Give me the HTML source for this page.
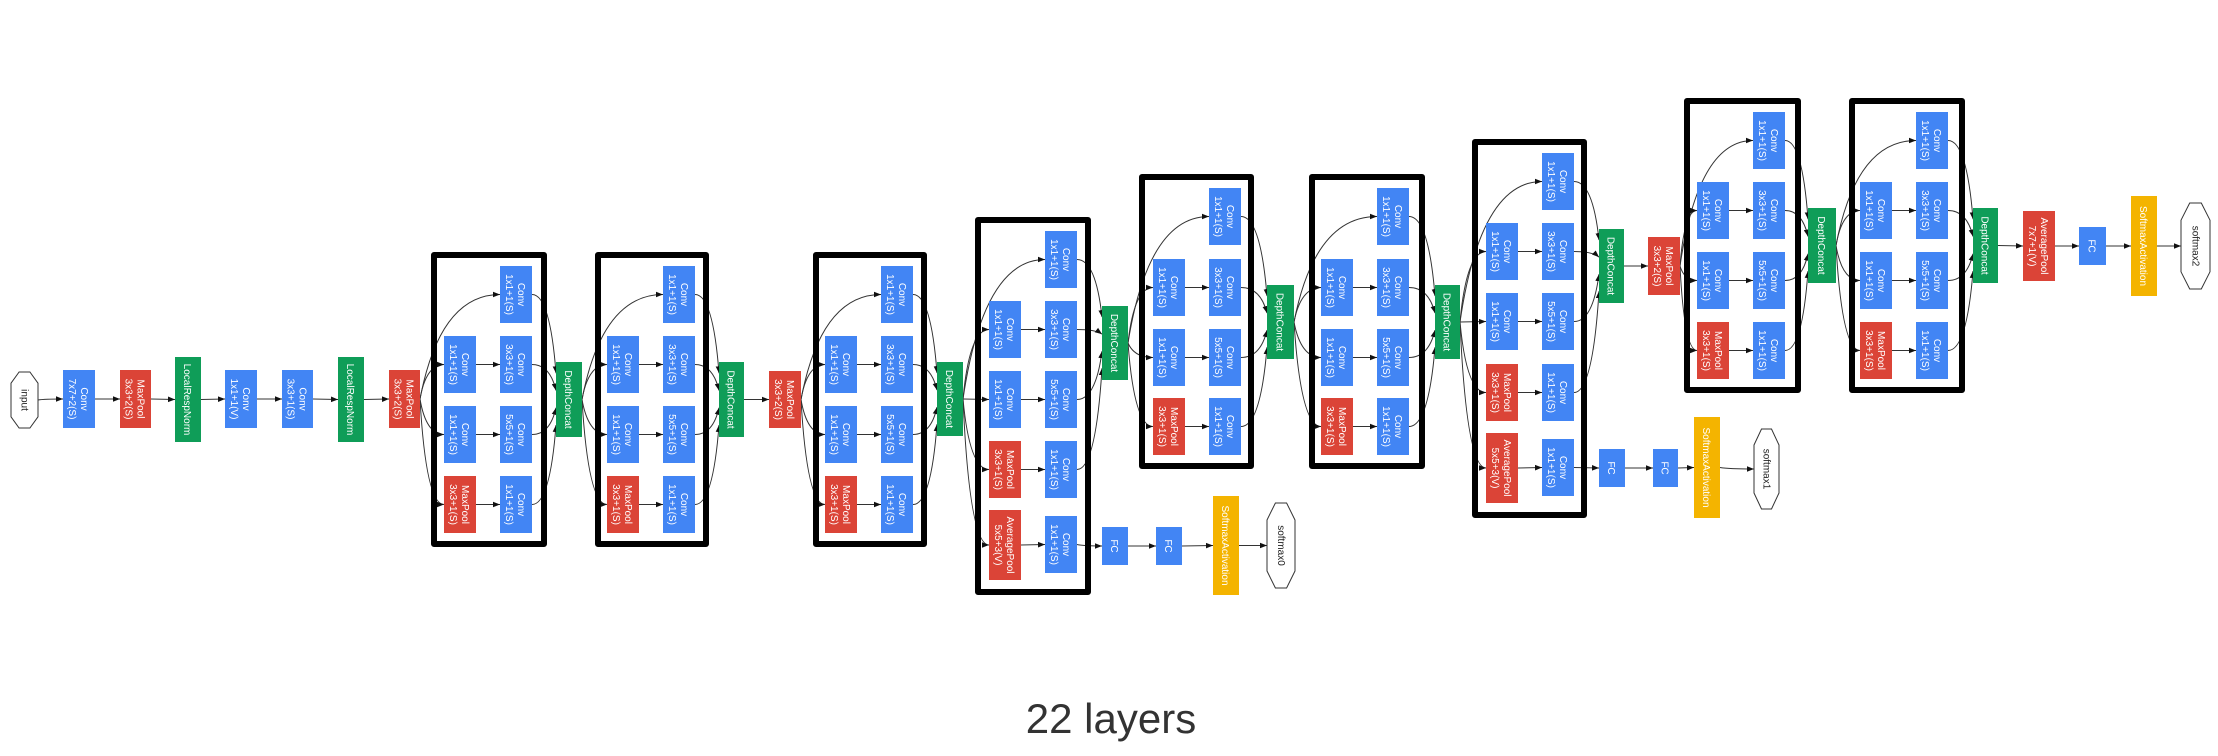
<!DOCTYPE html>
<html><head><meta charset="utf-8"><style>
html,body{margin:0;padding:0;background:#fff;width:2218px;height:756px;overflow:hidden}
svg{display:block}
.t{font-family:"Liberation Sans",sans-serif;font-size:10px;fill:#fff}
</style></head><body>
<svg id="g" width="2218" height="756" viewBox="0 0 2218 756" xmlns="http://www.w3.org/2000/svg">
<defs><marker id="ar" viewBox="0 0 10 10" refX="10" refY="5" markerWidth="7" markerHeight="7" orient="auto"><path d="M0,1 L10,5 L0,9 z" fill="#111"/></marker></defs>
<g id="edges"></g><g id="frames"></g><g id="nodes"></g>
<text x="1111" y="733" text-anchor="middle" font-family="Liberation Sans, sans-serif" font-size="42" fill="#333">22 layers</text>
</svg>
<script>
const BLUE='#4285F4',RED='#DB4437',GREEN='#0F9D58',YEL='#F4B400';
const NS='http://www.w3.org/2000/svg';
const E=document.getElementById('edges'),F=document.getElementById('frames'),G=document.getElementById('nodes');
function mk(tag,attrs,parent){const e=document.createElementNS(NS,tag);for(const k in attrs)e.setAttribute(k,attrs[k]);parent.appendChild(e);return e;}
function node(r,color,l1,l2,name){
  const g=mk('g',{},G);
  
  
  const [x1,y1,x2,y2]=r;
  if(color==='hex'){
    const cx=(x1+x2)/2,w=x2-x1,h=y2-y1;
    mk('polygon',{points:`${x1+w*0.3},${y1} ${x2-w*0.3},${y1} ${x2},${y1+h*0.2} ${x2},${y2-h*0.2} ${x2-w*0.3},${y2} ${x1+w*0.3},${y2} ${x1},${y2-h*0.2} ${x1},${y1+h*0.2}`,fill:'#fff',stroke:'#333','stroke-width':1},g);
    const t=mk('text',{x:0,y:3,'text-anchor':'middle','font-family':'Liberation Sans, sans-serif','font-size':10,fill:'#222',transform:`translate(${cx},${(y1+y2)/2}) rotate(90)`},g);t.textContent=l1;
  } else {
    mk('rect',{x:x1,y:y1,width:x2-x1,height:y2-y1,fill:color},g);
    const tg=mk('g',{transform:`translate(${(x1+x2)/2},${(y1+y2)/2}) rotate(90)`},g);
    if(l2){const a=mk('text',{class:'t',x:0,y:-2,'text-anchor':'middle'},tg);a.textContent=l1;
      const b=mk('text',{class:'t',x:0,y:10,'text-anchor':'middle'},tg);b.textContent=l2;}
    else{const a=mk('text',{class:'t',x:0,y:4,'text-anchor':'middle'},tg);a.textContent=l1;}
  }
  return r;
}
function edge(a,b,ty){
  const sx=a[2],sy=(a[1]+a[3])/2,tx=b[0],t=ty!==undefined?ty:(b[1]+b[3])/2;
  let d;
  if(Math.abs(sy-t)<1)d=`M${sx},${sy} L${tx},${t}`;
  else d=`M${sx},${sy} Q${sx+(tx-sx)*0.25},${t} ${tx},${t}`;
  const p=mk('path',{d:d,fill:'none',stroke:'#333','stroke-width':1,'marker-end':'url(#ar)'},E);
  
  
}
function edgeOut(a,b,ty){
  const sx=a[2],sy=(a[1]+a[3])/2,tx=b[0];
  const d=`M${sx},${sy} Q${tx-(tx-sx)*0.25},${sy} ${tx},${ty}`;
  const p=mk('path',{d:d,fill:'none',stroke:'#333','stroke-width':1,'marker-end':'url(#ar)'},E);
  
  
}
const inp=node([11,372,38,428],'hex','input','', 'input-node');
const stemDefs=[[63,95,BLUE,'Conv','7x7+2(S)',370,428],[120,151,RED,'MaxPool','3x3+2(S)',370,428],[175,201,GREEN,'LocalRespNorm','',357,442],[225,257,BLUE,'Conv','1x1+1(V)',370,428],[282,313,BLUE,'Conv','3x3+1(S)',370,428],[338,364,GREEN,'LocalRespNorm','',357,442],[389,420,RED,'MaxPool','3x3+2(S)',370,428]];
let prev=inp;
stemDefs.forEach((s,i)=>{const n=node([s[0],s[5],s[1],s[6]],s[2],s[3],s[4],'stem-'+s[3].toLowerCase()+'-'+i);edge(prev,n);prev=n;});
function inception(name,input,bx1,bx2,c1,c2,rows,aux,dc){
  const top=rows[0]-14,bot=aux?aux+70+15:rows[3]+57+14;
  const fr=mk('rect',{x:bx1+3,y:top+3,width:bx2-bx1-6,height:bot-top-6,fill:'none',stroke:'#000','stroke-width':6,'stroke-linejoin':'round'},F);
  
  
  const W=32,H=57;
  const r1=node([c2,rows[0],c2+W,rows[0]+H],BLUE,'Conv','1x1+1(S)',name+'-conv1x1');
  const a2=node([c1,rows[1],c1+W,rows[1]+H],BLUE,'Conv','1x1+1(S)',name+'-reduce3x3');
  const b2=node([c2,rows[1],c2+W,rows[1]+H],BLUE,'Conv','3x3+1(S)',name+'-conv3x3');
  const a3=node([c1,rows[2],c1+W,rows[2]+H],BLUE,'Conv','1x1+1(S)',name+'-reduce5x5');
  const b3=node([c2,rows[2],c2+W,rows[2]+H],BLUE,'Conv','5x5+1(S)',name+'-conv5x5');
  const a4=node([c1,rows[3],c1+W,rows[3]+H],RED,'MaxPool','3x3+1(S)',name+'-maxpool');
  const b4=node([c2,rows[3],c2+W,rows[3]+H],BLUE,'Conv','1x1+1(S)',name+'-poolproj');
  const D=node(dc,GREEN,'DepthConcat','',name+'-depthconcat');
  [r1,a2,a3,a4].forEach(t=>edge(input,t));
  edge(a2,b2);edge(a3,b3);edge(a4,b4);
  const h=dc[3]-dc[1];
  [r1,b2,b3,b4].forEach((s,i)=>edgeOut(s,D,dc[1]+h*(0.15+0.23*i)));
  let auxOut=null;
  if(aux){
    const ap=node([c1,aux,c1+W,aux+70],RED,'AveragePool','5x5+3(V)',name+'-aux-avgpool');
    const ac=node([c2,aux+6,c2+W,aux+63],BLUE,'Conv','1x1+1(S)',name+'-aux-conv');
    edge(input,ap);edge(ap,ac);auxOut=ac;
  }
  return [D,auxOut];
}
function chain(start,defs,pfx){let p=start;defs.forEach((d,i)=>{const n=node(d[0],d[1],d[2],d[3],pfx+'-'+i);edge(p,n);p=n;});return p;}
let [dA]=inception('inception-3a',prev,431,547,444,500,[266,336,406,476],0,[556,362,582,437]);
let [dB]=inception('inception-3b',dA,595,709,607,663,[266,336,406,476],0,[719,362,744,437]);
const mp2=node([769,371,801,428],RED,'MaxPool','3x3+2(S)','maxpool-2');edge(dB,mp2);
let [dC]=inception('inception-4a',mp2,813,927,825,881,[266,336,406,476],0,[937,362,963,436]);
let [dD,xD]=inception('inception-4b',dC,975,1091,989,1045,[231,301,371,441],510,[1102,306,1128,380]);
chain(xD,[[[1102,527,1128,565],BLUE,'FC',''],[[1156,527,1182,565],BLUE,'FC',''],[[1213,496,1239,595],YEL,'SoftmaxActivation',''],[[1267,503,1295,588],'hex','softmax0','']],'aux0');
let [dE]=inception('inception-4c',dD,1139,1254,1153,1209,[188,259,329,398],0,[1267,285,1294,359]);
let [dF]=inception('inception-4d',dE,1309,1425,1321,1377,[188,259,329,398],0,[1435,285,1460,359]);
let [dG,xG]=inception('inception-4e',dF,1472,1587,1486,1542,[153,223,293,364],433,[1599,229,1624,303]);
chain(xG,[[[1599,449,1625,487],BLUE,'FC',''],[[1653,449,1678,487],BLUE,'FC',''],[[1694,417,1720,518],YEL,'SoftmaxActivation',''],[[1754,429,1779,509],'hex','softmax1','']],'aux1');
const mp3=node([1648,237,1680,295],RED,'MaxPool','3x3+2(S)','maxpool-3');edge(dG,mp3);
let [dH]=inception('inception-5a',mp3,1684,1801,1697,1753,[112,182,252,322],0,[1808,208,1836,283]);
let [dI]=inception('inception-5b',dH,1849,1965,1860,1916,[112,182,252,322],0,[1973,208,1998,283]);
chain(dI,[[[2023,211,2055,281],RED,'AveragePool','7x7+1(V)'],[[2079,227,2106,265],BLUE,'FC',''],[[2131,196,2157,296],YEL,'SoftmaxActivation',''],[[2181,203,2210,289],'hex','softmax2','']],'head');
</script>
</body></html>
